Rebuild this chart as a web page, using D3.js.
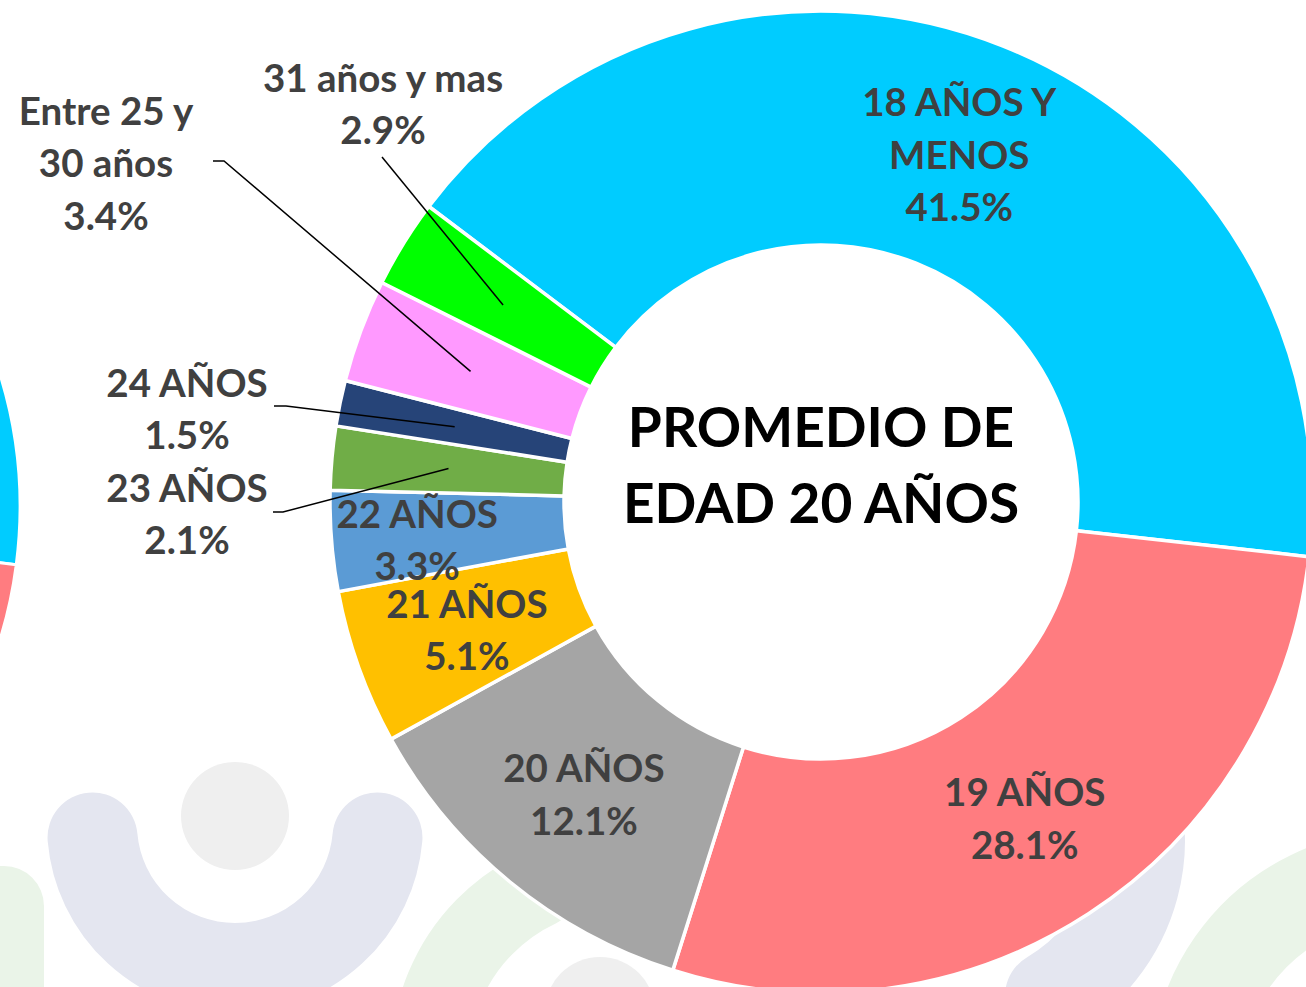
<!DOCTYPE html>
<meta charset="utf-8">
<style>
    body { margin: 0; background: #fff; }
    svg text { font-family: "Lato", "Open Sans", sans-serif; font-weight: 700; }
</style>
<script src="https://d3js.org/d3.v7.min.js"></script>
<div id="chart"></div>
<script>
// data
var categories = ["18 AÑOS Y MENOS", "19 AÑOS", "20 AÑOS", "21 AÑOS", "22 AÑOS",
                  "23 AÑOS", "24 AÑOS", "Entre 25 y 30 años", "31 años y mas"];
var labelLines = [["18 AÑOS Y", "MENOS"], ["19 AÑOS"], ["20 AÑOS"], ["21 AÑOS"], ["22 AÑOS"],
                  ["23 AÑOS"], ["24 AÑOS"], ["Entre 25 y", "30 años"], ["31 años y mas"]];
var values = [41.5, 28.1, 12.1, 5.1, 3.3, 2.1, 1.5, 3.4, 2.9];
var colors = ["#00CCFF", "#FF7C80", "#A5A5A5", "#FFC000", "#5B9BD5",
              "#70AD47", "#264478", "#FF99FF", "#00FF00"];
var centerTitle = ["PROMEDIO DE", "EDAD 20 AÑOS"];

// neighbouring chart cut off at the left edge (only part of two slices shows)
var leftValues = [27.4, 20];
var leftColors = ["#00CCFF", "#FF7C80"];

var W = 1306, H = 987;
var cx = 821, cy = 502, rIn = 257, rOut = 491, rLab = 374;
var lineH = 52.5;

var svg = d3.select("#chart").append("svg")
    .attr("width", W).attr("height", H);

// ---- faint logo watermarks in the background ----
var bg = svg.append("g");
var lav = "#E4E6F0", grn = "#EAF4E8", hd = "#EFEFEF";

function strokeArc(x, y, r, a0, a1, w, col) {
    var p = d3.path();
    var s = (a0 - 90) * Math.PI / 180, e = (a1 - 90) * Math.PI / 180;
    p.arc(0, 0, r, s, e, false);
    bg.append("path").attr("transform", "translate(" + x + "," + y + ")")
        .attr("d", p.toString()).attr("fill", "none")
        .attr("stroke", col).attr("stroke-width", w).attr("stroke-linecap", "round");
}
strokeArc(235, 825, 143, 95, 265, 90, lav);
bg.append("circle").attr("cx", 235).attr("cy", 816).attr("r", 54).attr("fill", hd);
bg.append("rect").attr("x", -40).attr("y", 866).attr("width", 84).attr("height", 200)
    .attr("rx", 40).attr("fill", grn);
strokeArc(620, 1060, 190, 250, 335, 78, grn);
strokeArc(960, 840, 180, 60, 150, 90, lav);
bg.append("circle").attr("cx", 600).attr("cy", 1012).attr("r", 55).attr("fill", hd);
strokeArc(1400, 1080, 205, 250, 360, 90, grn);

// ---- left neighbour donut fragment ----
var leftStart = 70 * Math.PI / 180;
var leftPie = d3.pie().sort(null).value(function (d) { return d; })
    .startAngle(leftStart).endAngle(leftStart + d3.sum(leftValues) * Math.PI / 180);
var leftArc = d3.arc().innerRadius(250).outerRadius(449);
svg.append("g").attr("transform", "translate(-429,507)")
    .selectAll("path").data(leftPie(leftValues)).enter().append("path")
    .attr("d", leftArc)
    .attr("fill", function (d, i) { return leftColors[i]; })
    .attr("stroke", "#fff").attr("stroke-width", 3);

// ---- main donut ----
var start = -53 * Math.PI / 180;
var pie = d3.pie().sort(null).value(function (d) { return d; })
    .startAngle(start).endAngle(start + 2 * Math.PI);
var arc = d3.arc().innerRadius(rIn).outerRadius(rOut);
var labArc = d3.arc().innerRadius(rLab).outerRadius(rLab);
var arcs = pie(values);

var g = svg.append("g").attr("transform", "translate(" + cx + "," + cy + ")");
g.selectAll("path.slice").data(arcs).enter().append("path")
    .attr("class", "slice")
    .attr("d", arc)
    .attr("fill", function (d, i) { return colors[i]; })
    .attr("stroke", "#fff").attr("stroke-width", 3.5).attr("stroke-linejoin", "round");

// labels: inside ones sit on the ring centroid, outside ones were dragged out with leader lines
var nudge = {"22 AÑOS": [-31, 8], "19 AÑOS": [0, 3], "20 AÑOS": [0, 3], "21 AÑOS": [-2, 2]};
var outside = {
    "23 AÑOS":            {at: [187 - cx, 514 - cy], from: [[273, 512], [283, 512]]},
    "24 AÑOS":            {at: [187 - cx, 409 - cy], from: [[274, 406], [286, 406]]},
    "Entre 25 y 30 años": {at: [106 - cx, 163 - cy], from: [[213, 161], [224, 161]]},
    "31 años y mas":      {at: [383 - cx, 104 - cy], from: [[382, 157]]}
};

arcs.forEach(function (d, i) {
    var name = categories[i];
    var lines = labelLines[i].concat([d3.format(".1f")(values[i]) + "%"]);
    var c = labArc.centroid(d);
    var pos;
    if (outside[name]) {
        pos = outside[name].at;
        var pts = outside[name].from.map(function (p) { return [p[0] - cx, p[1] - cy]; });
        pts.push(c);
        g.append("path").attr("d", d3.line()(pts))
            .attr("fill", "none").attr("stroke", "#000").attr("stroke-width", 1.5);
    } else {
        var n = nudge[name] || [0, 0];
        pos = [c[0] + n[0], c[1] + n[1]];
    }
    var t = g.append("text")
        .attr("text-anchor", "middle")
        .attr("fill", "#404040")
        .style("font-size", "38.5px");
    var top = pos[1] - (lines.length - 1) * lineH / 2 + 14;
    lines.forEach(function (s, k) {
        t.append("tspan").attr("x", pos[0]).attr("y", top + k * lineH).text(s);
    });
});

// centre title
var ct = g.append("text").attr("text-anchor", "middle").attr("fill", "#000")
    .style("font-size", "55px");
centerTitle.forEach(function (s, k) {
    ct.append("tspan").attr("x", 0).attr("y", -55 + k * 76).text(s);
});
</script>
</html>
